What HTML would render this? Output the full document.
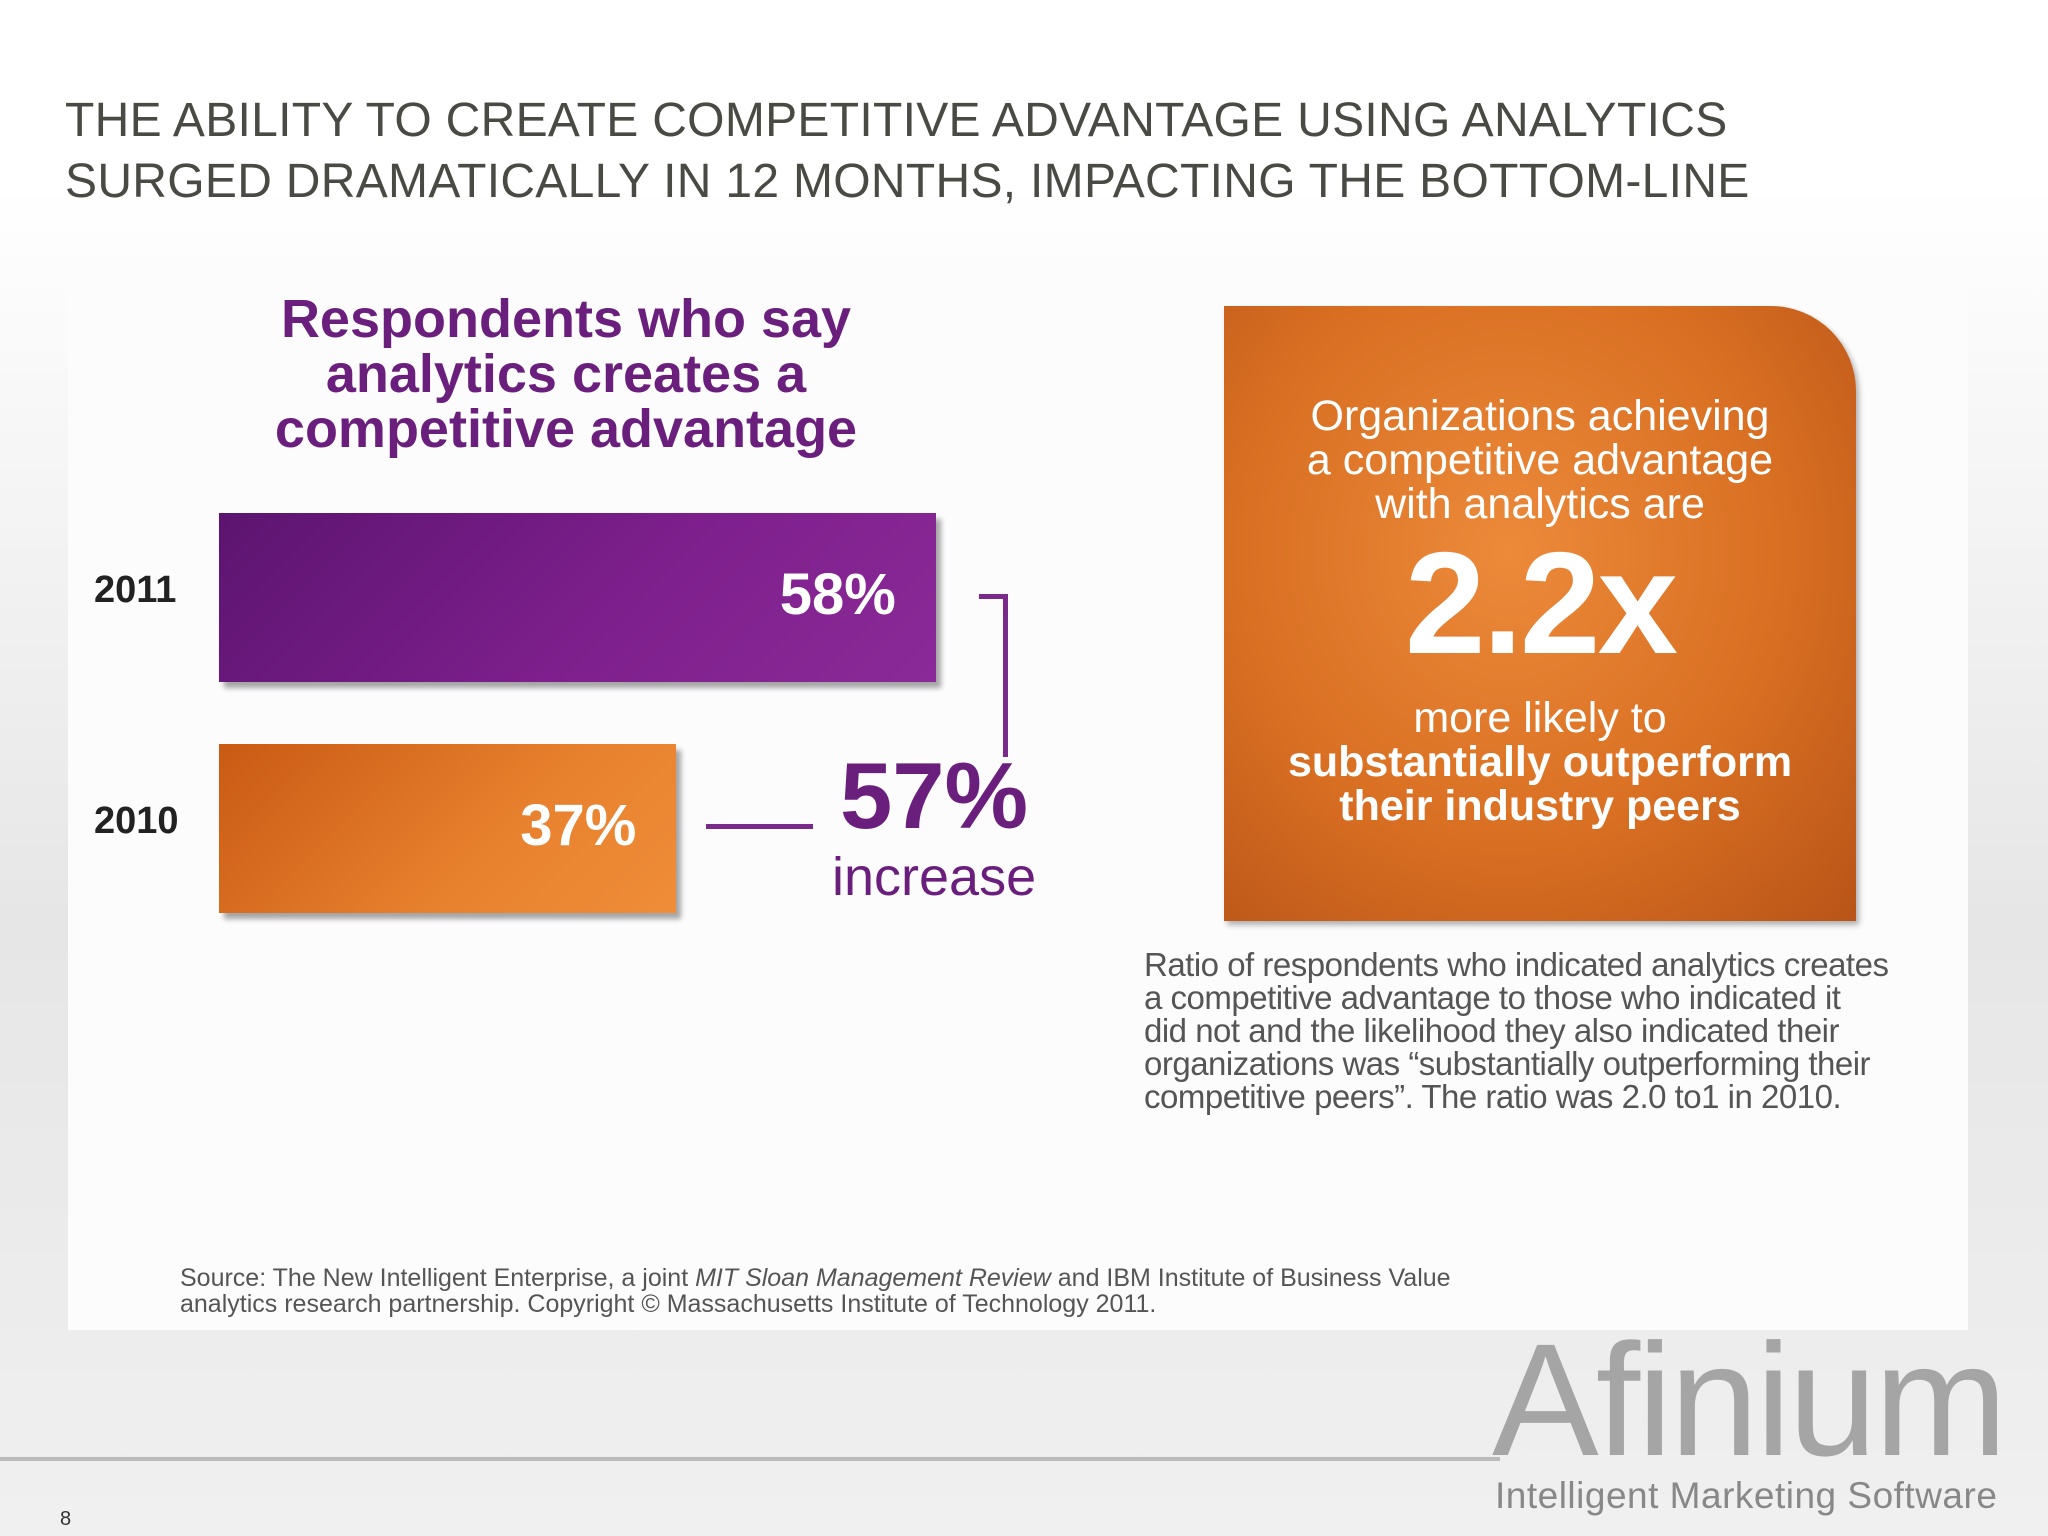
<!DOCTYPE html>
<html><head><meta charset="utf-8"><style>
body{margin:0;width:2048px;height:1536px;overflow:hidden;font-family:"Liberation Sans",sans-serif;background:linear-gradient(#fff 0%,#fff 12%,#e6e6e6 60%,#f0f0f0 100%);position:relative}
div,span{position:absolute}
.t{white-space:nowrap}
</style></head><body>
<div class="t" style="left:65px;top:90px;font-size:48px;line-height:61px;color:#4a4a44;letter-spacing:0.3px">THE ABILITY TO CREATE COMPETITIVE ADVANTAGE USING ANALYTICS<br>SURGED DRAMATICALLY IN 12 MONTHS, IMPACTING THE BOTTOM-LINE</div>
<div style="left:68px;top:272px;width:1900px;height:1058px;background:#fcfcfd"></div>
<div style="left:200px;top:292px;width:732px;text-align:center;font-size:54px;line-height:55px;font-weight:bold;color:#6b1f7c">Respondents who say<br>analytics creates a<br>competitive advantage</div>
<div id="chart" style="left:0;top:0"></div>
<div style="left:1003px;top:594px;width:5px;height:163px;background:#7a2a8a"></div>
<div style="left:979px;top:594px;width:29px;height:5px;background:#7a2a8a"></div>
<div style="left:706px;top:824px;width:107px;height:5px;background:#7a2a8a"></div>
<div class="t" style="left:840px;top:742px;font-size:94px;font-weight:bold;color:#6b1f7c">57%</div>
<div class="t" style="left:832px;top:846px;font-size:54px;color:#6b1f7c">increase</div>
<div style="left:1224px;top:306px;width:632px;height:615px;border-top-right-radius:85px;background:radial-gradient(ellipse at 45% 40%,#ec8a3a 0%,#d96f22 55%,#b85418 100%);box-shadow:3px 4px 6px rgba(0,0,0,.3);color:#fff;text-align:center">
<div style="left:0;top:88px;width:632px;font-size:43px;line-height:44px">Organizations achieving<br>a competitive advantage<br>with analytics are</div>
<div style="left:0;top:222px;width:632px;font-size:145px;font-weight:bold;line-height:150px;letter-spacing:-3px">2.2x</div>
<div style="left:0;top:390px;width:632px;font-size:43px;line-height:44px">more likely to<br><b>substantially outperform<br>their industry peers</b></div>
</div>
<div class="t" style="left:1144px;top:948px;font-size:33px;line-height:33px;color:#555;letter-spacing:-0.5px">Ratio of respondents who indicated analytics creates<br>a competitive advantage to those who indicated it<br>did not and the likelihood they also indicated their<br>organizations was “substantially outperforming their<br>competitive peers”.  The ratio was 2.0 to1 in 2010.</div>
<div class="t" style="left:180px;top:1265px;font-size:25px;line-height:26px;color:#555">Source: The New Intelligent Enterprise, a joint <i>MIT Sloan Management Review</i> and IBM Institute of Business Value<br>analytics research partnership. Copyright © Massachusetts Institute of Technology 2011.</div>
<div style="left:0;top:1457px;width:1500px;height:4px;background:#bbb"></div>
<div class="t" style="left:1492px;top:1320px;font-size:160px;color:#a5a5a5;letter-spacing:-3px;line-height:160px">Afinium</div>
<div class="t" style="left:1495px;top:1475px;font-size:37px;color:#888;letter-spacing:0.5px">Intelligent Marketing Software</div>
<div class="t" style="left:60px;top:1508px;font-size:20px;color:#333">8</div>
<script>
const years=["2011","2010"];
const values=[58,37];
const labels=["58%","37%"];
const chart=document.getElementById('chart');
const x0=219, scale=12.36, tops=[513,744], h=169;
const fills=["linear-gradient(135deg,#5c1470 0%,#7d1f8c 55%,#8a2a98 100%)","linear-gradient(135deg,#c95a14 0%,#e8812e 60%,#ef8d39 100%)"];
years.forEach((y,i)=>{
 const w=values[i]*scale;
 const bar=document.createElement('div');
 
 
 bar.style.cssText=`left:${x0}px;top:${tops[i]}px;width:${w}px;height:${h}px;background:${fills[i]};box-shadow:5px 6px 5px rgba(0,0,0,.35)`;
 chart.appendChild(bar);
 const v=document.createElement('div');
 
 
 v.className='t';
 v.textContent=labels[i];
 v.style.cssText=`left:${x0}px;top:${tops[i]+48}px;width:${w-40}px;text-align:right;font-size:58px;font-weight:bold;color:#fff`;
 chart.appendChild(v);
 const c=document.createElement('div');
 
 
 c.className='t';
 c.textContent=y;
 c.style.cssText=`left:94px;top:${tops[i]+56}px;font-size:38px;font-weight:bold;color:#222`;
 chart.appendChild(c);
});
</script>
</body></html>
